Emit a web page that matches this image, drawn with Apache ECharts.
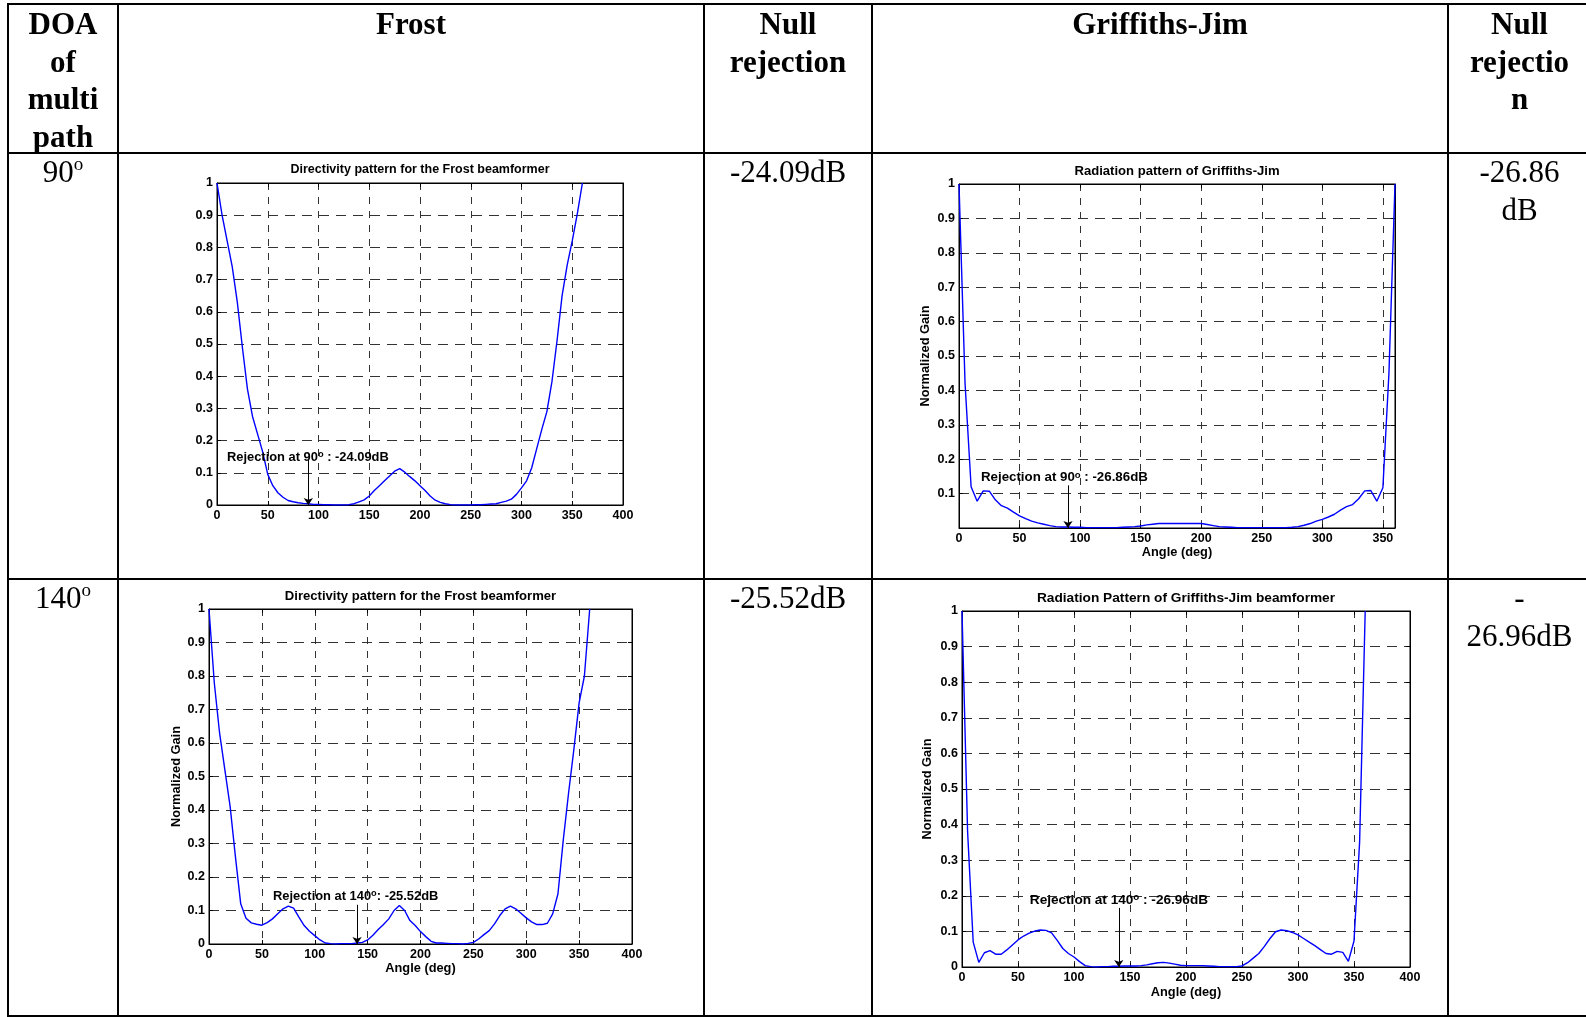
<!DOCTYPE html>
<html>
<head>
<meta charset="utf-8">
<script src="https://cdn.jsdelivr.net/npm/echarts@6/dist/echarts.min.js"></script>
<style>
html,body{margin:0;padding:0;background:#fff;}
#page{position:relative;width:1586px;height:1017px;overflow:hidden;background:#fff;}
#chart{position:absolute;left:0;top:0;width:1586px;height:1017px;}
.hl{position:absolute;height:2px;background:#000;}
.vl{position:absolute;width:2px;background:#000;}
.cell{position:absolute;text-align:center;font-family:"Liberation Serif","Times New Roman",serif;font-size:31px;line-height:37.5px;color:#000;white-space:nowrap;}
.b{font-weight:bold;}
.cell sup{font-size:19px;line-height:0;vertical-align:12px;}
</style>
</head>
<body>
<div id="page">
  <div id="chart"></div>
  <!-- table rules -->
  <div class="hl" style="left:7px;top:3px;width:1590px;"></div>
  <div class="hl" style="left:7px;top:152px;width:1590px;"></div>
  <div class="hl" style="left:7px;top:578px;width:1590px;"></div>
  <div class="hl" style="left:7px;top:1015px;width:1590px;"></div>
  <div class="vl" style="left:7px;top:3px;height:1014px;"></div>
  <div class="vl" style="left:117px;top:3px;height:1014px;"></div>
  <div class="vl" style="left:703px;top:3px;height:1014px;"></div>
  <div class="vl" style="left:871px;top:3px;height:1014px;"></div>
  <div class="vl" style="left:1447px;top:3px;height:1014px;"></div>
  <!-- header -->
  <div class="cell b" style="left:9px;width:108px;top:5px;">DOA<br>of<br>multi<br>path</div>
  <div class="cell b" style="left:119px;width:584px;top:5px;">Frost</div>
  <div class="cell b" style="left:705px;width:166px;top:5px;">Null<br>rejection</div>
  <div class="cell b" style="left:873px;width:574px;top:5px;">Griffiths-Jim</div>
  <div class="cell b" style="left:1449px;width:141px;top:5px;">Null<br>rejectio<br>n</div>
  <!-- row 1 -->
  <div class="cell" style="left:9px;width:108px;top:153px;">90<sup>o</sup></div>
  <div class="cell" style="left:705px;width:166px;top:153px;">-24.09dB</div>
  <div class="cell" style="left:1449px;width:141px;top:153px;">-26.86<br>dB</div>
  <!-- row 2 -->
  <div class="cell" style="left:9px;width:108px;top:579px;">140<sup>o</sup></div>
  <div class="cell" style="left:705px;width:166px;top:579px;">-25.52dB</div>
  <div class="cell" style="left:1449px;width:141px;top:579px;">-<br>26.96dB</div>
</div>
<script>
// ---------------- data ----------------
const ANGLES = [0,5,10,15,20,25,30,35,40,45,50,55,60,65,70,75,80,85,90,95,100,105,110,115,120,125,130,135,140,145,150,155,160,165,170,175,180,185,190,195,200,205,210,215,220,225,230,235,240,245,250,255,260,265,270,275,280,285,290,295,300,305,310,315,320,325,330,335,340,345,350,355,360];

const FROST_90 = [1.0,0.90,0.82,0.74,0.63,0.49,0.36,0.275,0.22,0.165,0.095,0.06,0.038,0.024,0.014,0.010,0.007,0.005,0.004,0.002,0.002,0.001,0.001,0,0,0,0.001,0.004,0.010,0.016,0.028,0.045,0.060,0.075,0.090,0.105,0.113,0.102,0.088,0.075,0.060,0.045,0.028,0.015,0.008,0.004,0.001,0,0,0,0,0.001,0.001,0.002,0.003,0.004,0.008,0.012,0.018,0.033,0.053,0.075,0.115,0.175,0.235,0.29,0.383,0.51,0.65,0.745,0.82,0.905,1.0];

const GJ_90 = [1.0,0.42,0.12,0.078,0.108,0.107,0.082,0.065,0.058,0.046,0.035,0.027,0.020,0.015,0.011,0.007,0.004,0.003,0.003,0.002,0.002,0.001,0.001,0.001,0.001,0.001,0.001,0.002,0.003,0.004,0.006,0.009,0.011,0.013,0.013,0.013,0.013,0.013,0.013,0.013,0.013,0.010,0.007,0.004,0.003,0.002,0.001,0.001,0.001,0.001,0.001,0.001,0.001,0.001,0.001,0.002,0.004,0.008,0.013,0.020,0.025,0.032,0.040,0.052,0.062,0.068,0.085,0.108,0.109,0.078,0.117,0.45,1.0];

const FROST_140 = [1.0,0.78,0.63,0.52,0.41,0.26,0.12,0.077,0.063,0.059,0.056,0.064,0.075,0.090,0.105,0.113,0.107,0.080,0.055,0.038,0.025,0.012,0.003,0.001,0,0.001,0.001,0.001,0.003,0.005,0.012,0.026,0.043,0.058,0.075,0.100,0.115,0.100,0.070,0.055,0.037,0.022,0.008,0.003,0.003,0.002,0.001,0.001,0,0.002,0.005,0.015,0.028,0.040,0.060,0.085,0.105,0.113,0.105,0.092,0.078,0.066,0.058,0.058,0.062,0.090,0.15,0.31,0.45,0.58,0.72,0.80,1.0];

const GJ_140 = [1.0,0.38,0.07,0.013,0.040,0.046,0.036,0.036,0.048,0.062,0.076,0.087,0.095,0.101,0.104,0.103,0.096,0.075,0.052,0.038,0.028,0.015,0.004,0.001,0,0.001,0.001,0.002,0.002,0.003,0.003,0.003,0.004,0.006,0.009,0.012,0.013,0.011,0.008,0.005,0.004,0.004,0.004,0.004,0.003,0.002,0.001,0.001,0.001,0.001,0.003,0.012,0.025,0.038,0.058,0.080,0.099,0.104,0.102,0.097,0.090,0.080,0.070,0.060,0.049,0.038,0.036,0.044,0.041,0.016,0.073,0.35,1.0];

const SERIES_VALUES = [FROST_90, GJ_90, FROST_140, GJ_140];
const X_MAX = [400, 360, 400, 400];
const X_TICK = 50;
const Y_TICK = 0.1;
const TITLES = [
  'Directivity pattern for the Frost beamformer',
  'Radiation pattern of Griffiths-Jim',
  'Directivity pattern for the Frost beamformer',
  'Radiation Pattern of Griffiths-Jim beamformer'
];
const X_NAMES = ['', 'Angle (deg)', 'Angle (deg)', 'Angle (deg)'];
const Y_NAMES = ['', 'Normalized Gain', 'Normalized Gain', 'Normalized Gain'];
const NULL_ANGLE = [90, 90, 140, 140];
const REJ_DEG = ['90', '90', '140', '140'];
const REJ_SEP = [' : ', ' : ', ': ', ' : '];
const REJ_DB = ['-24.09dB', '-26.86dB', '-25.52dB', '-26.96dB'];
// annotation anchors, in data units
const ARROW_TOP = [0.14, 0.124, 0.117, 0.166];
const LABEL_AT = [[9.3, 0.1475], [17.7, 0.146], [60, 0.142], [60.1, 0.188]];

// ---------------- layout / style ----------------
const GRIDS = [
  {left: 217, top: 183, width: 406, height: 322},
  {left: 959, top: 184, width: 436, height: 344},
  {left: 209, top: 609, width: 423, height: 335},
  {left: 962, top: 611, width: 448, height: 356}
];
const TITLE_SIZE = [12.5, 13.1, 13.1, 13.7];
const NOTE_SIZE = [12.9, 13.3, 12.9, 13.6];
const TICK_SIZE = 12.5;
const NAME_SIZE = 12.8;
const Y_NAME_GAP = [0, 27, 26, 28];
const X_NAME_GAP = [18, 17, 18, 19];
const FONT = '"Liberation Sans", Arial, Helvetica, sans-serif';

const chart = echarts.init(document.getElementById('chart'), null, {renderer: 'canvas'});

const grid = [], xAxis = [], yAxis = [], series = [], graphic = [];
GRIDS.forEach((g, i) => {
  grid.push({left: g.left, top: g.top, width: g.width, height: g.height,
    show: true, borderColor: '#000', borderWidth: 1, backgroundColor: 'transparent', containLabel: false});
  const tickStyle = {show: true, inside: true, length: 4, lineStyle: {color: '#000', width: 1}};
  const labelStyle = {color: '#000', fontWeight: 'bold', fontSize: TICK_SIZE, fontFamily: FONT};
  const nameStyle = {color: '#000', fontWeight: 'bold', fontSize: NAME_SIZE, fontFamily: FONT};
  xAxis.push({
    gridIndex: i, type: 'value', position: 'bottom', min: 0, max: X_MAX[i], interval: X_TICK,
    axisLine: {show: true, onZero: false, lineStyle: {color: '#000', width: 1}},
    axisTick: tickStyle,
    axisLabel: Object.assign({margin: 4, showMaxLabel: X_MAX[i] % X_TICK === 0}, labelStyle),
    splitLine: {show: true, lineStyle: {color: '#333', width: 1, type: [7, 7]}},
    name: X_NAMES[i], nameLocation: 'middle', nameGap: X_NAME_GAP[i], nameTextStyle: nameStyle
  });
  xAxis.push({
    gridIndex: i, type: 'value', position: 'top', min: 0, max: X_MAX[i], interval: X_TICK,
    axisLine: {show: true, onZero: false, lineStyle: {color: '#000', width: 1}},
    axisTick: tickStyle, axisLabel: {show: false}, splitLine: {show: false}
  });
  yAxis.push({
    gridIndex: i, type: 'value', position: 'left', min: 0, max: 1, interval: Y_TICK,
    axisLine: {show: true, onZero: false, lineStyle: {color: '#000', width: 1}},
    axisTick: tickStyle,
    axisLabel: Object.assign({margin: 4, showMinLabel: i !== 1}, labelStyle),
    splitLine: {show: true, lineStyle: {color: '#333', width: 1, type: [10, 7]}},
    name: Y_NAMES[i], nameLocation: 'middle', nameGap: Y_NAME_GAP[i], nameRotate: 90, nameTextStyle: nameStyle
  });
  yAxis.push({
    gridIndex: i, type: 'value', position: 'right', min: 0, max: 1, interval: Y_TICK,
    axisLine: {show: true, onZero: false, lineStyle: {color: '#000', width: 1}},
    axisTick: tickStyle, axisLabel: {show: false}, splitLine: {show: false}
  });
  const vals = SERIES_VALUES[i];
  series.push({
    type: 'line', xAxisIndex: 2 * i, yAxisIndex: 2 * i,
    data: ANGLES.map((a, k) => [a, vals[k]]),
    showSymbol: false, symbol: 'none', smooth: false, silent: true,
    lineStyle: {color: '#0000ff', width: 1.4},
    markLine: {
      silent: true, symbol: ['none', 'arrow'], symbolSize: 7,
      label: {show: false},
      lineStyle: {color: '#000', width: 1, type: 'solid'},
      emphasis: {disabled: true},
      data: [[{coord: [NULL_ANGLE[i], ARROW_TOP[i]]}, {coord: [NULL_ANGLE[i], 0]}]]
    },
    markPoint: {
      silent: true, symbol: 'circle', symbolSize: 1,
      itemStyle: {color: 'rgba(0,0,0,0)'},
      label: {
        show: true, position: 'right', distance: 0,
        formatter: '{n|Rejection at ' + REJ_DEG[i] + '}{s|o}{n|' + REJ_SEP[i] + REJ_DB[i] + '}',
        rich: {
          n: {fontSize: NOTE_SIZE[i], fontWeight: 'bold', fontFamily: FONT, color: '#000', lineHeight: 15},
          s: {fontSize: NOTE_SIZE[i] * 0.72, fontWeight: 'bold', fontFamily: FONT, color: '#000', lineHeight: 7, verticalAlign: 'top'}
        }
      },
      data: [{coord: LABEL_AT[i]}]
    }
  });
  graphic.push({
    type: 'text', silent: true,
    x: g.left + g.width / 2, y: g.top - 13,
    style: {text: TITLES[i], fill: '#000', font: 'bold ' + TITLE_SIZE[i] + 'px ' + FONT, align: 'center', verticalAlign: 'middle'}
  });
});

chart.setOption({
  animation: false,
  backgroundColor: 'transparent',
  grid: grid, xAxis: xAxis, yAxis: yAxis, series: series, graphic: graphic
});
</script>
</body>
</html>
